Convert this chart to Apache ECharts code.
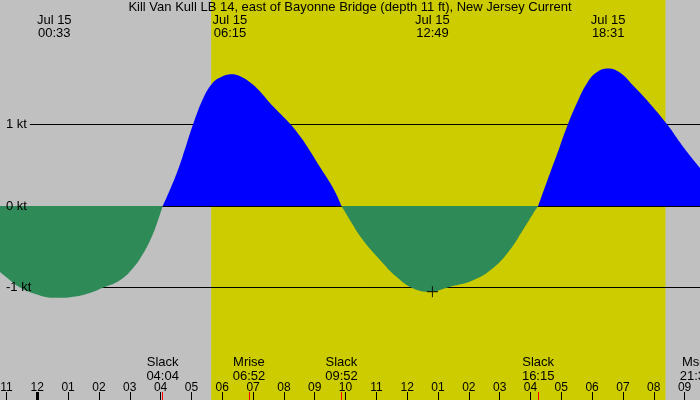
<!DOCTYPE html>
<html>
<head>
    <meta http-equiv="Content-Type" content="text/html; charset=utf-8" />
    <title>Kill Van Kull LB 14 current</title>
    <style>
        html, body { margin: 0; padding: 0; }
        #main { width: 700px; height: 400px; }
    </style>
</head>
<body>
    <div id="main"></div>
    <script src="https://cdn.jsdelivr.net/npm/echarts@6/dist/echarts.min.js"></script>
    <script type="text/javascript">
        var titleText = 'Kill Van Kull LB 14, east of Bayonne Bridge (depth 11 ft), New Jersey Current';

        // hours since local midnight, Jul 15 and current in knots (flood +, ebb -)
        var hours = [-1.21, -0.885, -0.56, -0.14, 0.54, 1.49, 2.14, 2.68, 3.11, 3.44, 3.71, 3.92, 4.07,
            4.52, 4.85, 5.06, 5.38, 5.66, 5.93, 6.31, 6.58, 6.90, 7.22, 7.54, 7.87, 8.25, 8.52, 8.74, 9.17, 9.60, 9.87,
            10.14, 10.57, 11.12, 11.66, 12.20, 12.74, 13.39, 14.14, 14.79, 15.33, 15.76, 16.09, 16.25,
            16.63, 16.95, 17.22, 17.50, 17.82, 18.14, 18.52, 18.90, 19.33, 19.87, 20.42, 20.95, 21.5];
        var knots = [-0.81, -0.91, -1.0, -1.07, -1.125, -1.09, -1.0, -0.91, -0.76, -0.58, -0.38, -0.17, 0,
            0.40, 0.77, 1.01, 1.32, 1.50, 1.58, 1.62, 1.595, 1.52, 1.41, 1.27, 1.14, 0.99, 0.86, 0.74, 0.48, 0.22, 0,
            -0.17, -0.42, -0.66, -0.87, -1.01, -1.05, -0.99, -0.91, -0.76, -0.54, -0.29, -0.09, 0,
            0.40, 0.73, 1.01, 1.26, 1.50, 1.64, 1.69, 1.64, 1.48, 1.26, 1.01, 0.73, 0.47];

        // max flood / ebb times shown along the top
        var peakHours = [0.55, 6.25, 12.82, 18.52];
        var peakLabels = ['00:33', '06:15', '12:49', '18:31'];
        var peakDate = 'Jul 15';

        // slack water and moon events along the bottom
        var eventHours = [4.067, 6.867, 9.867, 16.25, 21.58];
        var eventNames = ['Slack', 'Mrise', 'Slack', 'Slack', 'Mset'];
        var eventTimes = ['04:04', '06:52', '09:52', '16:15', '21:35'];

        var hourTicks = [-1, 0, 1, 2, 3, 4, 5, 6, 7, 8, 9, 10, 11, 12, 13, 14, 15, 16, 17, 18, 19, 20, 21];
        var knotTicks = [-1, 0, 1];

        var sunrise = 5.64, sunset = 20.38;
        var marker = [12.82, -1.05];

        var xMin = -1.21, xMax = 21.5;
        var yMin = -2.38, yMax = 2.53;
        var font = 'Liberation Sans';

        // split into flood / ebb pieces, gaps where the other one runs
        var flood = hours.map(function (h, i) { return [h, knots[i] >= 0 ? knots[i] : null]; });
        var ebb = hours.map(function (h, i) { return [h, knots[i] <= 0 ? knots[i] : null]; });

        // labels near the right edge are pulled in so they stay readable
        var eventLabelHours = eventHours.map(function (h) { return Math.min(h, 21.37); });

        function hourText(v) {
            var h = ((Math.round(v) % 12) + 12) % 12;
            if (h === 0) h = 12;
            return (h < 10 ? '0' : '') + h;
        }

        function baseX(extra) {
            return Object.assign({
                type: 'value', min: xMin, max: xMax, position: 'bottom', z: 10,
                axisLine: { show: false, onZero: false }, splitLine: { show: false },
                axisTick: { show: false }, axisLabel: { show: false }
            }, extra);
        }

        var option = {
            animation: false,
            backgroundColor: '#c0c0c0',
            textStyle: { fontFamily: font },
            title: {
                text: titleText, left: 'center', top: 1, padding: 0,
                textStyle: { fontFamily: font, fontSize: 13, fontWeight: 'normal', color: '#000' }
            },
            grid: { left: 0, right: 0, top: 0, bottom: 0, containLabel: false, outerBoundsMode: 'none' },
            xAxis: [
                baseX({
                    axisTick: { show: true, inside: true, length: 8, customValues: hourTicks, lineStyle: { color: '#000' } },
                    axisLabel: {
                        show: true, inside: true, margin: 6, customValues: hourTicks,
                        fontFamily: font, fontSize: 12, color: '#000', formatter: hourText
                    }
                }),
                baseX({
                    axisTick: { show: true, inside: true, length: 8, customValues: [0], lineStyle: { color: '#000', width: 3 } }
                }),
                baseX({
                    axisTick: { show: true, inside: true, length: 8, customValues: eventHours, lineStyle: { color: '#ff0000' } }
                }),
                baseX({
                    axisLabel: {
                        show: true, inside: true, margin: 17, customValues: eventLabelHours,
                        fontFamily: font, fontSize: 13, lineHeight: 14, color: '#000',
                        formatter: function (v) {
                            var i = eventLabelHours.indexOf(v);
                            return eventNames[i] + '\n' + eventTimes[i];
                        }
                    }
                }),
                baseX({
                    position: 'top',
                    axisLabel: {
                        show: true, inside: true, margin: 14, customValues: peakHours,
                        fontFamily: font, fontSize: 13, lineHeight: 13, color: '#000',
                        formatter: function (v) {
                            return peakDate + '\n' + peakLabels[peakHours.indexOf(v)];
                        }
                    }
                })
            ],
            yAxis: {
                type: 'value', min: yMin, max: yMax, z: 10,
                axisLine: { show: false, onZero: false }, axisTick: { show: false }, splitLine: { show: false },
                axisLabel: {
                    inside: true, margin: 6, customValues: knotTicks,
                    fontFamily: font, fontSize: 13, color: '#000',
                    formatter: function (v) { return v + ' kt'; }
                }
            },
            series: [
                {
                    type: 'line', data: [], z: 0, silent: true,
                    markArea: {
                        silent: true, z: 0,
                        itemStyle: { color: '#cccc00', opacity: 1 },
                        data: [[{ xAxis: sunrise }, { xAxis: sunset }]]
                    }
                },
                {
                    type: 'line', data: [], z: 1, silent: true,
                    markLine: {
                        silent: true, z: 1, symbol: 'none', label: { show: false },
                        lineStyle: { color: '#000', width: 1, type: 'solid' },
                        data: knotTicks.map(function (k) {
                            return [{ coord: [-0.24, k] }, { coord: [xMax, k] }];
                        })
                    }
                },
                {
                    type: 'line', data: flood, smooth: 0.45, symbol: 'none', z: 2, connectNulls: false,
                    lineStyle: { width: 0 }, areaStyle: { color: '#0000ff', opacity: 1, origin: 0 }
                },
                {
                    type: 'line', data: ebb, smooth: 0.45, symbol: 'none', z: 2, connectNulls: false,
                    lineStyle: { width: 0 }, areaStyle: { color: '#2e8b57', opacity: 1, origin: 0 }
                },
                {
                    type: 'scatter', data: [marker], z: 3, symbolSize: 11,
                    symbol: 'path://M0,4.5H10V5.5H0Z M4.5,0H5.5V10H4.5Z',
                    itemStyle: { color: '#000' }
                }
            ]
        };

        var myChart = echarts.init(document.getElementById('main'));
        myChart.setOption(option);
    </script>
</body>
</html>
